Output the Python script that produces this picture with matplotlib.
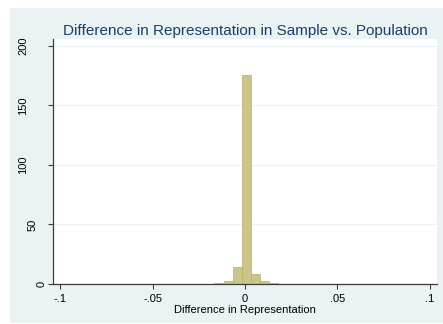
import numpy as np
import matplotlib
matplotlib.use("Agg")
import matplotlib.pyplot as plt
from matplotlib.patches import Rectangle

# histogram of differences (density), 41 equal-width bins
bin_start = -0.0998
bin_width = 0.0049
density = [
    0, 0, 0, 0, 0.4, 0.4, 0.4, 0.4, 0, 0.4,
    0.4, 0.4, 0, 0.4, 0.4, 0.4, 0.4, 1.2, 2.7, 14.3,
    175, 8.2, 2.2, 1.0, 0.4, 0.4, 0.4, 0.4, 0.4, 0.4,
    0.4, 0.4, 0.4, 0, 0, 0.4, 0, 0, 0.4, 0.4,
    0.4,
]
x_ticks = [-0.1, -0.05, 0, 0.05, 0.1]
x_tick_labels = ["-.1", "-.05", "0", ".05", ".1"]
y_ticks = [0, 50, 100, 150, 200]
y_tick_labels = ["0", "50", "100", "150", "200"]

title = "Difference in Representation in Sample vs. Population"
xlabel = "Difference in Representation"

plt.rcParams.update({
    "font.family": ["Liberation Sans", "DejaVu Sans"],
    "font.size": 8,
})

bg = "#EAF2F3"
axis_col = "#3c3c3c"

fig = plt.figure(figsize=(4.43, 3.24), dpi=100, facecolor="white")
fig.patches.append(Rectangle((10 / 443, 1 / 324), 433 / 443, 315 / 324,
                             transform=fig.transFigure, facecolor=bg,
                             edgecolor="none", zorder=-10))

ax = fig.add_axes([53 / 443, 1 - 284 / 324, 384 / 443, 245 / 324])
ax.set_facecolor("white")

edges = bin_start + bin_width * np.arange(len(density))
ax.bar(edges, density, width=bin_width, align="edge",
       color="#CCC58A", edgecolor="#B8B072", linewidth=0.5, zorder=2)

ax.set_xlim(-0.1038, 0.1038)
ax.set_ylim(0, 205.6)

ax.set_xticks(x_ticks)
ax.set_xticklabels(x_tick_labels)
ax.set_yticks(y_ticks)
ax.set_yticklabels(y_tick_labels, rotation=90)

ax.grid(True, axis="y", color=bg, linewidth=0.9, zorder=0)
ax.set_axisbelow(True)

for side in ["top", "right"]:
    ax.spines[side].set_visible(False)
for side in ["left", "bottom"]:
    ax.spines[side].set_color(axis_col)
    ax.spines[side].set_linewidth(0.9)

ax.tick_params(axis="both", length=3.6, width=0.8, color=axis_col,
               labelcolor="black", labelsize=8)
ax.tick_params(axis="x", pad=3.5)

# Stata pushes longer rotated labels further from the axis
for tick, lab in zip(ax.yaxis.get_major_ticks(), y_tick_labels):
    tick.set_pad(1.2 + 9 * (len(lab) - 1) / 1.389)
for lab in ax.get_yticklabels():
    lab.set_va("center")

ax.set_xlabel(xlabel, fontsize=8, labelpad=1.0)
ax.set_title(title, fontsize=11, color="#1A3F66", pad=3)

fig.savefig("out.png", dpi=100, facecolor="white")
